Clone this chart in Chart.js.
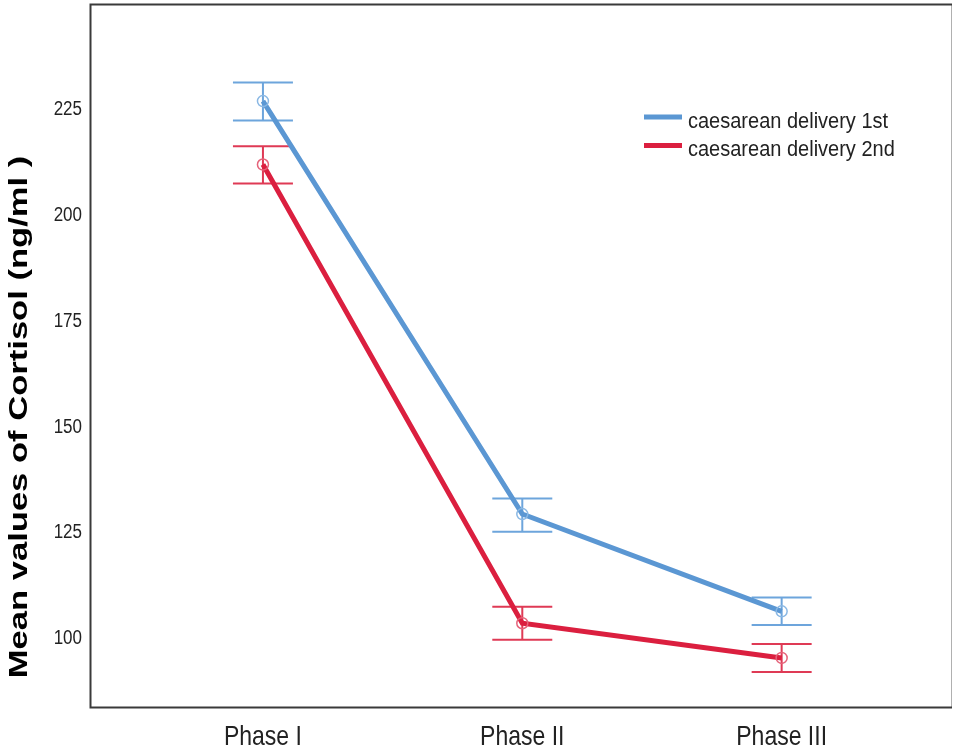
<!DOCTYPE html>
<html>
<head>
<meta charset="utf-8">
<script src="https://cdn.jsdelivr.net/npm/chart.js@4.4.1/dist/chart.umd.min.js"></script>
<style>
  html, body { margin: 0; padding: 0; background: #fff; }
  #wrap { width: 954px; height: 750px; position: relative; }
</style>
</head>
<body>
<div id="wrap"><canvas id="cortisol_chart" width="954" height="750"></canvas></div>
<script>
// data
var phases = ['Phase I', 'Phase II', 'Phase III'];
var firstMean = [226.6, 129.0, 106.0];
var firstLow = [222.0, 124.8, 102.8];
var firstHigh = [231.0, 132.7, 109.3];
var secondMean = [211.6, 103.2, 95.0];
var secondLow = [207.1, 99.3, 91.7];
var secondHigh = [215.9, 107.1, 98.3];
var yTicks = [100, 125, 150, 175, 200, 225];
var seriesNames = ['caesarean delivery 1st', 'caesarean delivery 2nd'];

var FONT = "'Liberation Sans', Arial, sans-serif";
var STRETCH = 1.22; // the original text is drawn tall and narrow
var BLUE = '#5b97d3';
var RED = '#db1f3f';

function points(vals) {
    return vals.map(function (v, i) { return { x: i, y: v }; });
}

// error bars drawn under the lines, from the scales
var errorBars = {
    id: 'errorBars',
    beforeDatasetsDraw: function (chart) {
        var ctx = chart.ctx;
        var xs = chart.scales.x, ys = chart.scales.y;
        chart.data.datasets.forEach(function (ds) {
            ctx.save();
            ctx.strokeStyle = ds.barColor;
            ctx.lineWidth = 2;
            ds.low.forEach(function (lo, i) {
                var x = xs.getPixelForValue(i);
                var y1 = ys.getPixelForValue(lo);
                var y2 = ys.getPixelForValue(ds.high[i]);
                ctx.beginPath();
                ctx.moveTo(x, y1); ctx.lineTo(x, y2);
                ctx.moveTo(x - 30, y1); ctx.lineTo(x + 30, y1);
                ctx.moveTo(x - 30, y2); ctx.lineTo(x + 30, y2);
                ctx.stroke();
            });
            ctx.restore();
        });
    }
};

function stretchedText(ctx, text, x, y, size, align) {
    ctx.save();
    ctx.translate(x, y);
    ctx.scale(1, STRETCH);
    ctx.font = size + 'px ' + FONT;
    ctx.textAlign = align;
    ctx.textBaseline = 'alphabetic';
    ctx.fillText(text, 0, 0);
    ctx.restore();
}

// frame, tick labels, axis title and legend
var decorations = {
    id: 'decorations',
    afterDraw: function (chart) {
        var ctx = chart.ctx;
        var a = chart.chartArea;
        var xs = chart.scales.x, ys = chart.scales.y;
        ctx.save();
        ctx.lineWidth = 1;
        ctx.strokeStyle = '#b0b0b0';
        ctx.beginPath();
        ctx.moveTo(a.right + 0.5, a.top); ctx.lineTo(a.right + 0.5, a.bottom);
        ctx.stroke();
        ctx.lineWidth = 2;
        ctx.strokeStyle = '#3a3a3a';
        ctx.beginPath();
        ctx.moveTo(a.right + 1, a.top - 0.5); ctx.lineTo(a.left - 0.5, a.top - 0.5);
        ctx.lineTo(a.left - 0.5, a.bottom + 0.5); ctx.lineTo(a.right + 1, a.bottom + 0.5);
        ctx.stroke();
        ctx.restore();

        // tick labels
        ctx.save();
        ctx.fillStyle = '#222';
        ys.ticks.forEach(function (t) {
            stretchedText(ctx, String(t.value), a.left - 9, ys.getPixelForValue(t.value) + 7.4, 17, 'right');
        });
        xs.ticks.forEach(function (t) {
            stretchedText(ctx, phases[t.value], xs.getPixelForValue(t.value), a.bottom + 38, 23, 'center');
        });
        ctx.restore();

        // y axis title
        ctx.save();
        ctx.translate(27, 417);
        ctx.rotate(-Math.PI / 2);
        ctx.scale(1.33, 1);
        ctx.font = 'bold 26px ' + FONT;
        ctx.fillStyle = '#000';
        ctx.textAlign = 'center';
        ctx.textBaseline = 'alphabetic';
        ctx.fillText('Mean values of Cortisol (ng/ml )', 0, 0);
        ctx.restore();

        // legend
        ctx.save();
        chart.data.datasets.forEach(function (ds, i) {
            var y = 117 + i * 28.5;
            ctx.strokeStyle = ds.borderColor;
            ctx.lineWidth = 5;
            ctx.beginPath();
            ctx.moveTo(644, y); ctx.lineTo(682, y);
            ctx.stroke();
            ctx.fillStyle = '#222';
            ctx.save();
            ctx.translate(688, y + 10.5);
            ctx.scale(1, 1.08);
            ctx.font = '20px ' + FONT;
            ctx.textAlign = 'left';
            ctx.textBaseline = 'alphabetic';
            ctx.fillText(seriesNames[i], 0, 0);
            ctx.restore();
        });
        ctx.restore();
    }
};

var ctx = document.getElementById('cortisol_chart').getContext('2d');
var chart = new Chart(ctx, {
    type: 'line',
    data: {
        datasets: [{
            label: seriesNames[0],
            data: points(firstMean),
            low: firstLow,
            high: firstHigh,
            borderColor: BLUE,
            barColor: '#6da5dc',
            borderWidth: 5,
            pointRadius: 5.5,
            pointBorderWidth: 1.5,
            pointBorderColor: '#8ab8e4',
            pointBackgroundColor: 'rgba(0,0,0,0)',
            tension: 0
        }, {
            label: seriesNames[1],
            data: points(secondMean),
            low: secondLow,
            high: secondHigh,
            borderColor: RED,
            barColor: '#df3a55',
            borderWidth: 5,
            pointRadius: 5.5,
            pointBorderWidth: 1.5,
            pointBorderColor: '#e5637a',
            pointBackgroundColor: 'rgba(0,0,0,0)',
            tension: 0
        }]
    },
    options: {
        responsive: false,
        animation: false,
        devicePixelRatio: 1,
        layout: { autoPadding: false, padding: { left: 0, top: 5, right: 3, bottom: 0 } },
        plugins: {
            legend: { display: false },
            tooltip: { enabled: false }
        },
        scales: {
            x: {
                type: 'linear',
                min: -0.663,
                max: 2.653,
                grid: { display: false, drawTicks: false },
                border: { display: false },
                afterBuildTicks: function (scale) {
                    scale.ticks = phases.map(function (p, i) { return { value: i }; });
                },
                afterFit: function (scale) {
                    scale.height = 43;
                    scale.paddingLeft = 0; scale.paddingRight = 0;
                },
                ticks: { display: false }
            },
            y: {
                min: 83.4,
                max: 249.3,
                grid: { display: false, drawTicks: false },
                border: { display: false },
                afterBuildTicks: function (scale) {
                    scale.ticks = yTicks.map(function (v) { return { value: v }; });
                },
                afterFit: function (scale) {
                    scale.width = 91;
                    scale.paddingTop = 0; scale.paddingBottom = 0;
                },
                ticks: { display: false }
            }
        }
    },
    plugins: [errorBars, decorations]
});
</script>
</body>
</html>
